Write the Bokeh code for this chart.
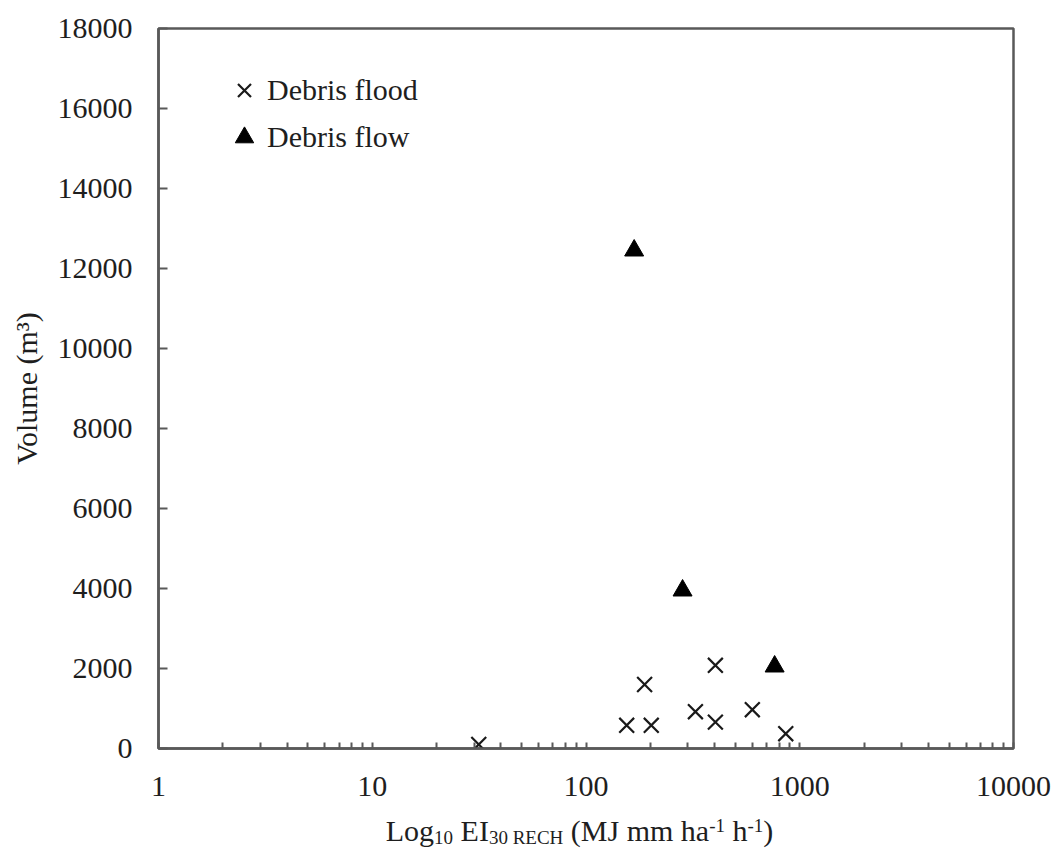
from bokeh.plotting import figure
from bokeh.layouts import column
from bokeh.models import (Range1d, FixedTicker, BasicTickFormatter, Legend,
                          LegendItem, ColumnDataSource)
from bokeh.core.properties import value
from bokeh.embed import file_html
from bokeh.resources import INLINE

# ---- data ----
flood_x = [31.5, 155, 202, 188, 325, 403, 403, 600, 860]
flood_y = [100, 580, 580, 1600, 920, 660, 2080, 970, 370]
flow_x = [168, 283, 763]
flow_y = [12450, 3950, 2050]

x_ticks = [1, 10, 100, 1000, 10000]
y_ticks = list(range(0, 18001, 2000))
x_minor = [d * k for d in [1, 10, 100, 1000] for k in range(2, 10)]

series_names = ["Debris flood", "Debris flow"]
y_title = "Volume (m³)"
x_title_parts = [("Log", "main"), ("10", "sub"), (" EI", "main"),
                 ("30 RECH", "sub"), (" (MJ mm ha", "main"), ("-1", "sup"),
                 (" h", "main"), ("-1", "sup"), (")", "main")]

FONT = "Liberation Serif"
AX = "#595959"
TXT = "#1e1e1e"

W = 1055
H_MAIN, H_CAP = 815, 34
LEFT, RIGHT, TOP = 158, 42, 28
BOTTOM = H_MAIN - 748

p = figure(width=W, height=H_MAIN, x_axis_type="log",
           x_range=Range1d(1, 10000), y_range=Range1d(0, 18000),
           output_backend="svg", toolbar_location=None,
           min_border_left=LEFT, min_border_right=RIGHT,
           min_border_top=TOP, min_border_bottom=BOTTOM)
p.background_fill_color = "white"
p.border_fill_color = "white"
p.outline_line_color = AX
p.outline_line_width = 2.5
p.xgrid.visible = False
p.ygrid.visible = False

r1 = p.scatter(flood_x, flood_y, marker="x", size=21, line_color="#1a1a1a",
               line_width=2.2)
r2 = p.scatter(flow_x, flow_y, marker="triangle", size=19, fill_color="black",
               line_color="black")

# axes
xa = p.xaxis[0]
xa.ticker = FixedTicker(ticks=x_ticks, minor_ticks=x_minor)
xa.formatter = BasicTickFormatter()
ya = p.yaxis[0]
ya.ticker = FixedTicker(ticks=y_ticks)
ya.formatter = BasicTickFormatter(use_scientific=False)
for ax in (xa, ya):
    ax.axis_line_color = AX
    ax.axis_line_width = 2.5
    ax.major_tick_line_color = AX
    ax.minor_tick_line_color = AX
    ax.major_tick_line_width = 2
    ax.minor_tick_line_width = 2
    ax.major_tick_out = 0
    ax.minor_tick_out = 0
    ax.major_label_text_font = FONT
    ax.major_label_text_font_size = "30px"
    ax.major_label_text_color = TXT
xa.major_tick_in = 6
xa.minor_tick_in = 6
xa.major_label_standoff = 28
ya.major_tick_in = 9
ya.minor_tick_line_color = None
ya.major_label_standoff = 26
ya.axis_label = y_title
ya.axis_label_text_font = FONT
ya.axis_label_text_font_size = "30px"
ya.axis_label_text_font_style = "normal"
ya.axis_label_text_color = TXT
ya.axis_label_standoff = 12

# legend
legend = Legend(items=[LegendItem(label=series_names[0], renderers=[r1]),
                       LegendItem(label=series_names[1], renderers=[r2])],
                location=(63, 588), margin=0, padding=0,
                glyph_width=46, glyph_height=46, label_standoff=0, spacing=1,
                label_text_font=FONT, label_text_font_size="30px",
                label_text_color=TXT,
                background_fill_alpha=0, border_line_alpha=0)
p.add_layout(legend, "center")

# x axis title (with sub/superscripts) drawn in a strip below the chart;
# the strip's x coordinates are canvas pixels
adv = {"L": 611, "o": 500, "g": 500, " ": 250, "E": 611, "I": 333, "(": 333,
       "M": 889, "J": 389, "m": 778, "h": 500, "a": 444, "-": 333, "1": 500,
       ")": 333, "3": 500, "0": 500, "R": 667, "C": 667, "H": 722}
sizes = {"main": 30, "sub": 19, "sup": 19}
base = {"main": 19, "sub": 12, "sup": 24}


def tw(s, k):
    return sum(adv.get(c, 500) for c in s) * sizes[k] / 1000.0


widths = [tw(t, k) for t, k in x_title_parts]
xs, ys, ts, fs = [], [], [], []
x0 = 579 - sum(widths) / 2.0
for (t, k), w in zip(x_title_parts, widths):
    lead = len(t) - len(t.lstrip(" "))
    xs.append(x0 + tw(" " * lead, k))
    ys.append(base[k])
    ts.append(t.strip(" "))
    fs.append(f"{sizes[k]}px")
    x0 += w
src = ColumnDataSource(dict(x=xs, y=ys, text=ts, fs=fs))

cap = figure(width=W, height=H_CAP, x_range=Range1d(LEFT, W - RIGHT),
             y_range=Range1d(0, H_CAP), output_backend="svg",
             toolbar_location=None, x_axis_location=None,
             y_axis_location=None, min_border_left=LEFT,
             min_border_right=RIGHT, min_border_top=0, min_border_bottom=0)
cap.grid.visible = False
cap.outline_line_color = None
cap.background_fill_color = "white"
cap.border_fill_color = "white"
cap.text(x="x", y="y", text="text", source=src, text_font=value(FONT),
         text_font_size="fs", text_color=TXT, text_baseline="alphabetic",
         text_align="left")

layout = column(p, cap, spacing=0)
open("out.html", "w").write(file_html(layout, INLINE))
